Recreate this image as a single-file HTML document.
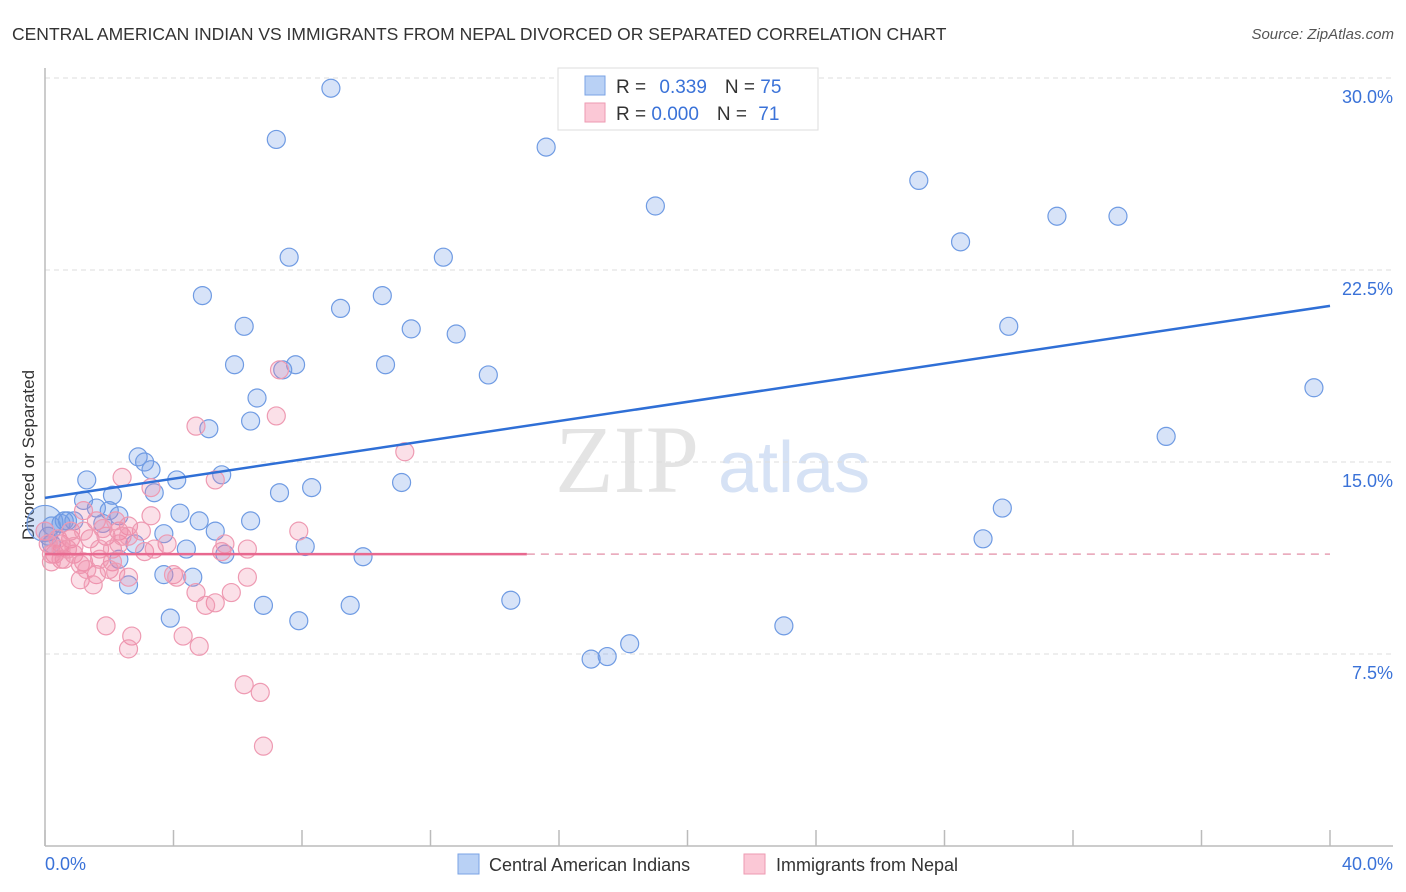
<!DOCTYPE html>
<html><head><meta charset="utf-8"><style>
body{margin:0;background:#fff;font-family:"Liberation Sans",sans-serif;}
svg{display:block}
</style></head><body>
<svg id="chart" width="1406" height="892">
<text x="12" y="40" font-size="17.5" fill="#333">CENTRAL AMERICAN INDIAN VS IMMIGRANTS FROM NEPAL DIVORCED OR SEPARATED CORRELATION CHART</text>
<text x="1394" y="39" font-size="15" fill="#555" font-style="italic" text-anchor="end">Source: ZipAtlas.com</text>
<text transform="translate(34,455) rotate(-90)" font-size="17" fill="#333" text-anchor="middle">Divorced or Separated</text>
<text x="555" y="492" font-size="96" fill="#e4e4e4" font-family="Liberation Serif,serif">ZIP</text>
<text x="718" y="492" font-size="72" fill="#d6e2f5">atlas</text>
<g id="grid"></g><g id="axes"></g><g id="pts"></g><g id="lines"></g>
<g>
<rect x="558" y="68" width="260" height="62" fill="#fff" stroke="#ddd"/>
<rect x="585" y="76" width="20" height="19" fill="#b9d1f5" stroke="#7aa3e5"/>
<rect x="585" y="103" width="20" height="19" fill="#fbc8d6" stroke="#ee9ab2"/>
<text x="616" y="93" font-size="19" fill="#333">R = <tspan fill="#3a72d8" dx="8">0.339</tspan><tspan dx="18" fill="#333">N = </tspan><tspan fill="#3a72d8">75</tspan></text>
<text x="616" y="120" font-size="19" fill="#333">R = <tspan fill="#3a72d8">0.000</tspan><tspan dx="18" fill="#333">N = </tspan><tspan fill="#3a72d8" dx="6">71</tspan></text>
</g>
<g>
<rect x="458" y="854" width="21" height="20" fill="#b9d1f5" stroke="#7aa3e5"/>
<text x="489" y="871" font-size="18" fill="#333">Central American Indians</text>
<rect x="744" y="854" width="21" height="20" fill="#fbc8d6" stroke="#ee9ab2"/>
<text x="776" y="871" font-size="18" fill="#333">Immigrants from Nepal</text>
</g>
</svg>
<script>
const yTicks=[7.5,15,22.5,30];
const yTickLabels=["7.5%","15.0%","22.5%","30.0%"];
const xTickLabels=["0.0%","40.0%"];
const blueX=[8.9,7.2,15.6,27.2,19.0,31.5,33.4,28.5,7.6,12.4,4.9,10.5,9.2,6.2,11.4,12.8,30.0,5.9,7.8,10.6,7.4,13.8,39.5,6.6,6.4,5.1,34.9,2.9,3.1,3.3,4.1,1.3,5.5,3.4,7.3,8.3,11.1,2.1,1.2,29.8,1.6,4.2,2.3,0.6,0.9,6.4,4.8,0.5,1.8,5.3,3.7,2.8,29.2,8.1,5.6,4.4,9.9,2.3,0.2,0.1,3.7,4.6,2.6,14.5,6.8,9.5,3.9,7.9,23.0,18.2,17.0,17.5,0.2,0.7,2.0];
const blueY=[29.6,27.6,27.3,26.0,25.0,24.6,24.6,23.6,23.0,23.0,21.5,21.5,21.0,20.3,20.2,20.0,20.3,18.8,18.8,18.8,18.6,18.4,17.9,17.5,16.6,16.3,16.0,15.2,15.0,14.7,14.3,14.3,14.5,13.8,13.8,14.0,14.2,13.7,13.5,13.2,13.2,13.0,12.9,12.7,12.7,12.7,12.7,12.6,12.6,12.3,12.2,11.8,12.0,11.7,11.4,11.6,11.3,11.2,12.5,12.1,10.6,10.5,10.2,9.6,9.4,9.4,8.9,8.8,8.6,7.9,7.3,7.4,11.8,12.7,13.1];
const pinkX=[7.3,4.7,7.2,11.2,2.4,3.3,5.3,1.2,2.6,3.3,1.6,2.3,1.4,1.9,1.8,0.5,0.8,0.3,0.2,0.6,0.9,0.7,1.2,1.7,2.1,0.4,0.0,7.9,2.3,5.6,3.1,3.8,2.1,1.6,1.1,1.5,2.0,2.6,2.2,4.0,4.1,6.3,5.3,5.0,4.7,5.8,1.9,2.7,4.3,2.6,4.8,6.2,6.7,6.8,5.5,6.3,0.8,1.1,0.5,0.9,3.0,2.4,1.2,1.7,0.1,0.2,0.5,1.3,2.2,2.6,3.4];
const pinkY=[18.6,16.4,16.8,15.4,14.4,14.0,14.3,13.1,12.5,12.9,12.7,12.3,12.0,12.1,12.4,11.8,12.0,11.4,11.4,11.2,11.4,11.6,11.1,11.6,11.6,12.0,12.3,12.3,11.8,11.8,11.5,11.8,11.1,10.6,10.4,10.2,10.8,10.5,10.7,10.6,10.5,10.5,9.5,9.4,9.9,9.9,8.6,8.2,8.2,7.7,7.8,6.3,6.0,3.9,11.5,11.6,12.3,11.0,11.2,11.7,12.3,12.1,12.3,11.2,11.8,11.1,11.6,10.8,12.7,12.1,11.6];
const blueTrend=[13.6,21.1];
const pinkTrend=[11.4,11.4];
const NS="http://www.w3.org/2000/svg";
const X0=45,X1=1330,Y0=846,PPY=25.6;
function sx(v){return X0+v/40*(X1-X0);}
function sy(v){return Y0-v*PPY;}
function mk(t,a,p){const e=document.createElementNS(NS,t);for(const k in a)e.setAttribute(k,a[k]);p.appendChild(e);return e;}
const grid=document.getElementById('grid'),axes=document.getElementById('axes'),pts=document.getElementById('pts'),lines=document.getElementById('lines');
yTicks.forEach((v,i)=>{
 const l=mk('line',{x1:45,x2:1393,y1:sy(v),y2:sy(v),stroke:'#ddd','stroke-dasharray':'5,4'},grid);
 
 
 const t=mk('text',{x:1393,y:sy(v)+25,'font-size':18,fill:'#3a72d8','text-anchor':'end'},axes);
 t.textContent=yTickLabels[i];
 
 
});
const la=mk('line',{x1:45,x2:45,y1:68,y2:846,stroke:'#bbb','stroke-width':1.5},axes);


const lb=mk('line',{x1:45,x2:1393,y1:846,y2:846,stroke:'#bbb','stroke-width':1.5},axes);


for(let i=0;i<=10;i++){
 const t=mk('line',{x1:sx(i*4),x2:sx(i*4),y1:830,y2:846,stroke:'#bbb','stroke-width':1.5},axes);
 
 
}
const xl0=mk('text',{x:45,y:870,'font-size':18,fill:'#3a72d8'},axes);
xl0.textContent=xTickLabels[0];


const xl1=mk('text',{x:1393,y:870,'font-size':18,fill:'#3a72d8','text-anchor':'end'},axes);
xl1.textContent=xTickLabels[1];


const big=mk('circle',{cx:sx(0),cy:sy(12.6),r:18,fill:'rgba(110,155,230,0.3)',stroke:'#6f9be3','stroke-width':1.2},pts);


blueX.forEach((v,i)=>{
 const c=mk('circle',{cx:sx(v),cy:sy(blueY[i]),r:9,fill:'rgba(110,155,230,0.28)',stroke:'#6f9be3','stroke-width':1.2},pts);
 
 
});
pinkX.forEach((v,i)=>{
 const c=mk('circle',{cx:sx(v),cy:sy(pinkY[i]),r:9,fill:'rgba(240,130,165,0.25)',stroke:'#ee9ab2','stroke-width':1.2},pts);
 
 
});
const bt=mk('line',{x1:sx(0),y1:sy(blueTrend[0]),x2:sx(40),y2:sy(blueTrend[1]),stroke:'#2f6fd6','stroke-width':2.5},lines);


const pt=mk('line',{x1:sx(0),y1:sy(pinkTrend[0]),x2:sx(15),y2:sy(pinkTrend[0]+(pinkTrend[1]-pinkTrend[0])*15/40),stroke:'#e8688f','stroke-width':2.5},lines);


const pd=mk('line',{x1:sx(15),y1:sy(pinkTrend[0]+(pinkTrend[1]-pinkTrend[0])*15/40),x2:sx(40),y2:sy(pinkTrend[1]),stroke:'#e8a0b5','stroke-width':1.5,'stroke-dasharray':'8,6'},lines);


</script>
</body></html>
